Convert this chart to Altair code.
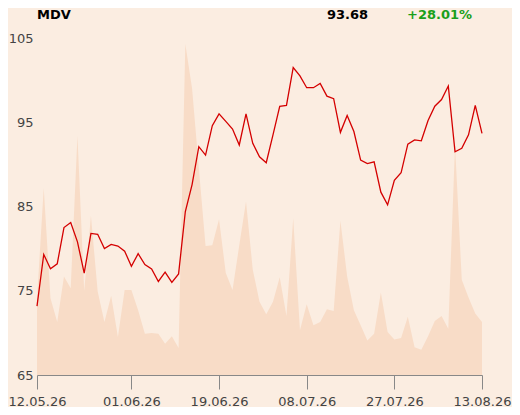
import altair as alt
import pandas as pd

symbol = "MDV"
price = [73.18, 79.3, 77.6, 78.2, 82.5, 83.1, 80.8, 77.1, 81.8, 81.7,
         80.0, 80.5, 80.3, 79.7, 77.9, 79.4, 78.1, 77.6, 76.1, 77.2,
         76.0, 77.0, 84.4, 87.6, 92.1, 91.1, 94.6, 96.0, 95.1, 94.2,
         92.3, 96.0, 92.5, 90.9, 90.2, 93.5, 96.9, 97.0, 101.5, 100.5,
         99.1, 99.1, 99.6, 98.1, 97.8, 93.8, 95.8, 93.9, 90.5, 90.1,
         90.3, 86.7, 85.2, 88.1, 89.0, 92.4, 92.9, 92.8, 95.2, 96.9,
         97.7, 99.3, 91.5, 91.9, 93.5, 97.0, 93.68]
volume = [9.0, 22.2, 9.1, 6.3, 11.7, 10.3, 28.4, 10.0, 18.9, 9.9,
          6.3, 9.4, 4.5, 10.1, 10.1, 7.7, 4.9, 5.0, 4.9, 3.7,
          4.6, 3.2, 39.3, 34.0, 24.6, 15.3, 15.4, 18.5, 12.1, 10.1,
          15.4, 20.6, 12.5, 8.7, 7.2, 8.7, 11.6, 7.0, 18.6, 5.3,
          8.4, 5.9, 6.3, 7.8, 7.6, 18.3, 11.7, 7.7, 5.9, 4.1,
          4.9, 9.8, 5.1, 4.2, 4.4, 6.9, 3.3, 3.0, 4.6, 6.4,
          7.0, 5.5, 27.3, 11.3, 9.2, 7.3, 6.3]
tick_idx = [0, 14, 27, 40, 53, 66]
tick_labels = ["12.05.26", "01.06.26", "19.06.26", "08.07.26", "27.07.26", "13.08.26"]
y_ticks = [65, 75, 85, 95, 105]

last_txt = f"{price[-1]:.2f}"
chg_txt = f"{(price[-1] / price[0] - 1) * 100:+.2f}%"

df = pd.DataFrame({"i": list(range(len(price))), "price": price, "vol": volume})

FONT = "DejaVu Sans"
BG = "#fbede1"

label_expr = "[" + ",".join(f"'{t}'" for t in tick_labels) + "][indexof([" + ",".join(str(v) for v in tick_idx) + "], datum.value)]"

xenc = alt.X("i:Q", scale=alt.Scale(domain=[0, len(price) - 1], nice=False),
             axis=alt.Axis(values=tick_idx, labelExpr=label_expr, title=None, grid=False,
                           tickSize=14, tickColor="#888888", domainColor="#888888",
                           labelPadding=6, labelFontSize=13, labelColor="#444444",
                           labelFont=FONT, labelFlush=False))

area = alt.Chart(df).mark_area(color="#f8dcc7", opacity=1).encode(
    x=xenc,
    y=alt.Y("vol:Q", scale=alt.Scale(domain=[0, 40]), axis=None),
)

line = alt.Chart(df).mark_line(color="#d40000", strokeWidth=1.3).encode(
    x=xenc,
    y=alt.Y("price:Q", scale=alt.Scale(domain=[65, 105], nice=False, zero=False),
            axis=alt.Axis(values=y_ticks, title=None, domain=False, ticks=False,
                          gridColor="#b4b0ab", gridWidth=1, labelPadding=4,
                          labelFontSize=13, labelColor="#444444", labelFont=FONT,
                          zindex=1)),
)

def header(txt, xpos, color):
    return alt.Chart(pd.DataFrame({"t": [txt]})).mark_text(
        align="left", baseline="alphabetic", font=FONT, fontSize=13,
        fontWeight="bold", color=color
    ).encode(text="t:N", x=alt.value(xpos), y=alt.value(-19))

chart = alt.layer(
    area, line,
    header(symbol, 0, "#000000"),
    header(last_txt, 290, "#000000"),
    header(chg_txt, 370, "#1a9f1a"),
).resolve_scale(y="independent").properties(
    width=445, height=337,
    autosize=alt.AutoSizeParams(type="none"),
    padding={"left": 29, "top": 30, "right": 30, "bottom": 32},
    background=BG,
).configure_view(stroke=None)

chart.save("out.html", embed_options={"renderer": "svg", "actions": False})
